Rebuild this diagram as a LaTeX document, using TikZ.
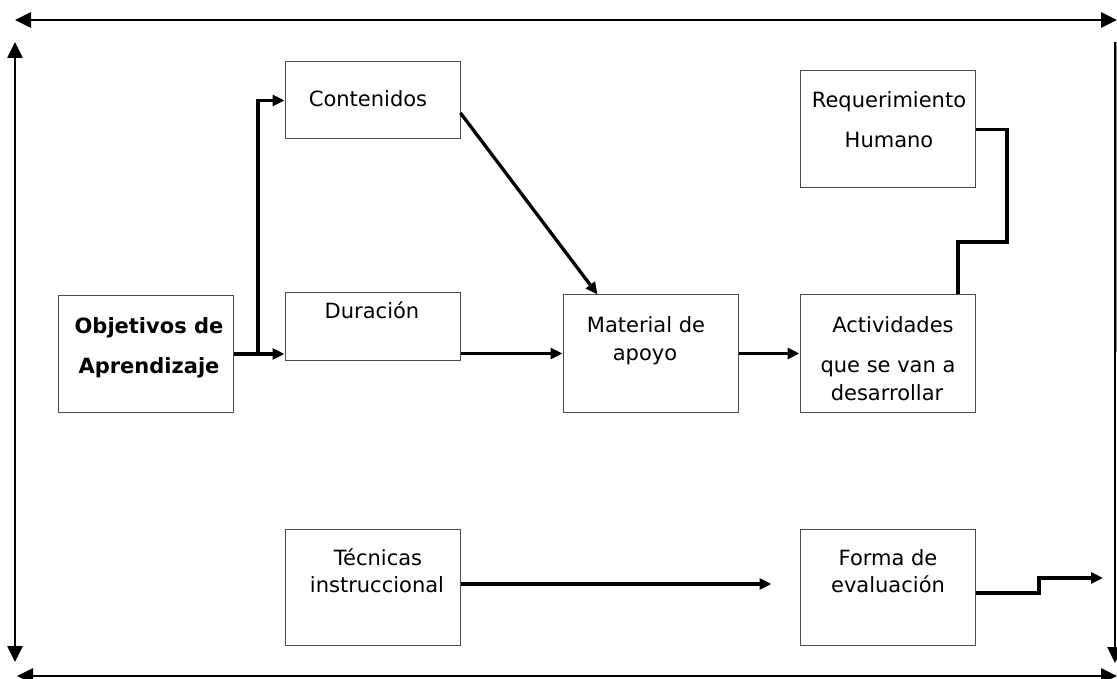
\documentclass[tikz,border=0pt]{standalone}
\usepackage{fontspec}
\setmainfont{DejaVu Sans}
\usetikzlibrary{arrows.meta,calc}
\begin{document}
\begin{tikzpicture}[x=1pt,y=-1pt,
  box/.style={draw=black!70,line width=1pt,inner sep=0pt,minimum width=175pt},
  txt/.style={inner sep=0pt,anchor=base,font=\fontsize{21}{25}\selectfont},
  btxt/.style={txt,font=\fontsize{21}{25}\selectfont\bfseries},
  conn/.style={line width=3.3pt,-{Triangle[length=12pt,width=11pt]}},
  link/.style={line width=3.3pt},
  frame/.style={line width=2.6pt,{Triangle[length=16pt,width=15pt]}-{Triangle[length=16pt,width=15pt]}},
  frameone/.style={line width=2.6pt,-{Triangle[length=16pt,width=15pt]}}]
\useasboundingbox (0,0) rectangle (1117,679);
\clip (0,0) rectangle (1117,679);
% frame arrows
\coordinate (tl) at (15,20);
\coordinate (tr) at (1117,20);
\coordinate (lt) at (15,42);
\coordinate (lb) at (15,662);
\coordinate (bl) at (17,676);
\coordinate (br2) at (1117,676);
\coordinate (rt) at (1115,42);
\coordinate (rb) at (1115,663);
\coordinate (rm) at (1116.5,352);
\coordinate (rtt) at (1116.5,42);
\draw[frame] (tl) -- (tr);
\draw[frame] (lt) -- (lb);
\draw[frame] (bl) -- (br2);
\draw[frameone] (rt) -- (rb);
\draw[black!45,line width=1.2pt] (rtt) -- (rm);
% boxes
\node[box,minimum height=116pt] (obj) at (145.5,354) {};
\node[box,minimum height=77pt] (cont) at (372.5,100.5) {};
\node[box,minimum height=67pt] (dur) at (372.5,326.5) {};
\node[box,minimum height=117pt] (mat) at (650.5,353.5) {};
\node[box,minimum height=117pt] (act) at (887.5,353.5) {};
\node[box,minimum height=117pt] (req) at (887.5,129.5) {};
\node[box,minimum height=116pt] (tec) at (372.5,587) {};
\node[box,minimum height=116pt] (forma) at (887.5,587) {};
% texts
\node[btxt] (t1) at (149,333) {Objetivos de};
\node[btxt] (t2) at (149,373) {Aprendizaje};
\node[txt] (t3) at (368,107) {Contenidos};
\node[txt] (t4) at (372,318) {Duración};
\node[txt] (t5) at (646,332) {Material de};
\node[txt] (t6) at (645,360) {apoyo};
\node[txt] (t7) at (893,332) {Actividades};
\node[txt] (t8) at (888,372) {que se van a};
\node[txt] (t9) at (887,400) {desarrollar};
\node[txt] (t10) at (889,108) {Requerimiento};
\node[txt] (t11) at (889,148) {Humano};
\node[txt] (t12) at (378,565) {Técnicas};
\node[txt] (t13) at (377,592) {instruccional};
\node[txt] (t14) at (888,565) {Forma de};
\node[txt] (t15) at (888,592) {evaluación};
% connectors
\coordinate (branch) at (258,354);
\draw[conn] (obj.east) -- (dur.west |- obj.east);
\draw[conn] (branch) |- (cont.west);
\draw[conn] ([yshift=-12.5pt]cont.east) -- ([xshift=-53pt]mat.north);
\draw[conn] (dur.east |- mat.west) -- (mat.west);
\draw[conn] (mat.east) -- (act.west);
\coordinate (rq1) at (1007,242);
\draw[link] (req.east) -| (rq1) -| ([xshift=70.5pt]act.north);
\draw[conn] ([yshift=3pt]tec.east) -- ([yshift=3pt,xshift=-28pt]forma.west);
\coordinate (fstep) at (1039,593);
\coordinate (fout) at (1103,578);
\draw[conn] ([yshift=-6pt]forma.east) -- (fstep) |- (fout);
\end{tikzpicture}
\end{document}
